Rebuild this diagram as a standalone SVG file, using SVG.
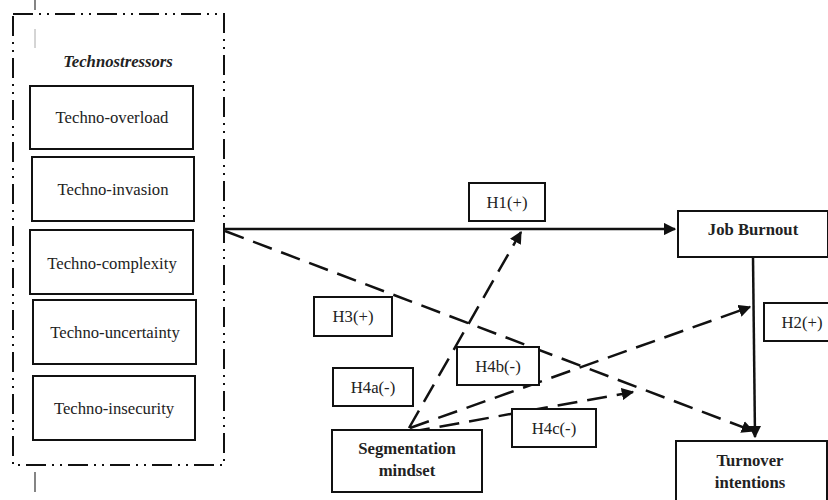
<svg xmlns="http://www.w3.org/2000/svg" width="828" height="500" viewBox="0 0 828 500">
<style>
.box{fill:#fff;stroke:#111;stroke-width:2}
.t{font-family:"Liberation Serif","Times New Roman",serif;font-size:16.7px;fill:#222;text-anchor:middle}
.b{font-weight:bold}
.ln{fill:none;stroke:#111;stroke-width:2.5}
.dash{stroke-dasharray:20 10}
</style>
<defs>
<marker id="ah" viewBox="0 0 10 10" refX="9" refY="5" markerWidth="5" markerHeight="5" markerUnits="strokeWidth" orient="auto">
<path d="M0,0 L10,5 L0,10 z" fill="#111"/>
</marker>
</defs>
<rect width="828" height="500" fill="#fff"/>
<g id="frame">
<line x1="35" y1="0" x2="35" y2="10" stroke="#333" stroke-width="1.2"/>
<line x1="35" y1="29" x2="35" y2="48" stroke="#aaa" stroke-width="1"/>
<line x1="35" y1="472" x2="35" y2="492" stroke="#333" stroke-width="1.2"/>
<rect x="13" y="14" width="211" height="451" fill="none" stroke="#111" stroke-width="2" stroke-dasharray="20 6 2 6 2 6"/>
<text class="t b" x="118" y="67" font-style="italic">Technostressors</text>
</g>
<g id="techno-overload"><rect class="box" x="30" y="86" width="163" height="63"/><text class="t" x="112" y="123">Techno-overload</text></g>
<g id="techno-invasion"><rect class="box" x="32" y="157" width="162" height="64"/><text class="t" x="113" y="195">Techno-invasion</text></g>
<g id="techno-complexity"><rect class="box" x="30" y="230" width="163" height="64"/><text class="t" x="112" y="269">Techno-complexity</text></g>
<g id="techno-uncertainty"><rect class="box" x="33" y="300" width="163" height="64"/><text class="t" x="115" y="338">Techno-uncertainty</text></g>
<g id="techno-insecurity"><rect class="box" x="33" y="376" width="162" height="64"/><text class="t" x="114" y="414">Techno-insecurity</text></g>
<g id="connectors">
<line class="ln" x1="225" y1="229" x2="675" y2="229" marker-end="url(#ah)"/>
<line class="ln dash" x1="225" y1="231" x2="753" y2="431" marker-end="url(#ah)"/>
<line class="ln" x1="753" y1="257" x2="755" y2="437" marker-end="url(#ah)"/>
<line class="ln dash" x1="409" y1="428" x2="521" y2="232" marker-end="url(#ah)"/>
<line class="ln dash" x1="410" y1="428" x2="750" y2="307" marker-end="url(#ah)"/>
<line class="ln dash" x1="410" y1="432" x2="633" y2="392" marker-end="url(#ah)"/>
</g>
<g id="job-burnout"><rect class="box" x="678" y="211" width="150" height="46"/><text class="t b" x="753" y="235">Job Burnout</text></g>
<g id="turnover-intentions"><rect class="box" x="676" y="441" width="151" height="62"/><text class="t b" x="750" y="466">Turnover</text><text class="t b" x="750" y="488">intentions</text></g>
<g id="segmentation-mindset"><rect class="box" x="332" y="430" width="150" height="62"/><text class="t b" x="407" y="454">Segmentation</text><text class="t b" x="407" y="476">mindset</text></g>
<g id="h1"><rect class="box" x="469" y="183" width="76" height="38"/><text class="t" x="507" y="208">H1(+)</text></g>
<g id="h2"><rect class="box" x="764" y="303" width="66" height="38"/><text class="t" x="802" y="328">H2(+)</text></g>
<g id="h3"><rect class="box" x="314" y="297" width="78" height="39"/><text class="t" x="353" y="322">H3(+)</text></g>
<g id="h4a"><rect class="box" x="333" y="368" width="80" height="38"/><text class="t" x="373" y="393">H4a(-)</text></g>
<g id="h4b"><rect class="box" x="457" y="347" width="82" height="38"/><text class="t" x="498" y="372">H4b(-)</text></g>
<g id="h4c"><rect class="box" x="512" y="409" width="84" height="38"/><text class="t" x="554" y="434">H4c(-)</text></g>
</svg>
